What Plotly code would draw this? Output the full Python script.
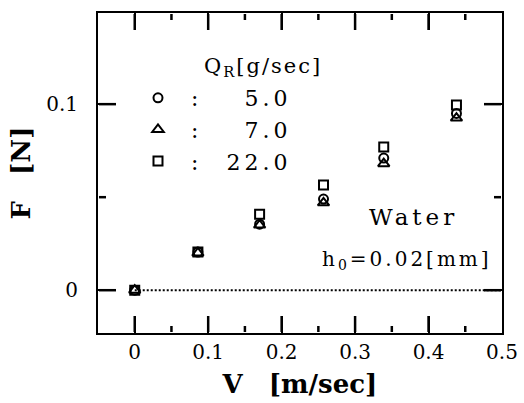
import plotly.graph_objects as go

V = [0.0, 0.086, 0.170, 0.257, 0.339, 0.438]
F_5 = [0.0, 0.0205, 0.0355, 0.0490, 0.0710, 0.0950]
F_7 = [0.0, 0.0200, 0.0350, 0.0470, 0.0680, 0.0925]
F_22 = [0.0, 0.0205, 0.0408, 0.0565, 0.0770, 0.0995]
series_names = ["5.0", "7.0", "22.0"]
x_major = [0.0, 0.1, 0.2, 0.3, 0.4]
x_minor = [0.05, 0.15, 0.25, 0.35, 0.45]
y_major = [0.0, 0.1]
y_minor = [0.05]

W, H = 524, 403
ML, MR, MT, MB = 98, 22, 13, 70
PW, PH = W - ML - MR, H - MT - MB
XR = [-0.05, 0.5]
YR = [-0.023, 0.149]
XPX = (XR[1] - XR[0]) / PW
YPX = (YR[1] - YR[0]) / PH

FONT = "DejaVu Serif"
LS = '<span style="letter-spacing:{}px">{}</span>'
fig = go.Figure()

# tick marks drawn as separate line traces per side (inside, mirrored)
tickline = dict(color="black", width=2.5, simplify=False)
sides = []
bx, by, tpx, tpy = [], [], [], []
for xs, ln in [(x_major, 17), (x_minor, 7)]:
    for xv in xs:
        bx += [xv, xv, None]
        by += [YR[0] + 1 * YPX, YR[0] + ln * YPX, None]
        tpx += [xv, xv, None]
        tpy += [YR[1] - 1 * YPX, YR[1] - ln * YPX, None]
lx, ly, rx, ry = [], [], [], []
for ysv, ln in [(y_major, 18), (y_minor, 8)]:
    for yv in ysv:
        lx += [XR[0] + 1 * XPX, XR[0] + ln * XPX, None]
        ly += [yv, yv, None]
        rx += [XR[1] - 1 * XPX, XR[1] - ln * XPX, None]
        ry += [yv, yv, None]
for sx, sy in [(bx, by), (tpx, tpy), (lx, ly), (rx, ry)]:
    fig.add_trace(go.Scatter(x=sx, y=sy, mode="lines", showlegend=False,
                             hoverinfo="skip", line=tickline, cliponaxis=False,
                             connectgaps=False))

fig.add_trace(go.Scatter(x=[0, XR[1]], y=[0, 0], mode="lines", showlegend=False,
                         hoverinfo="skip", line=dict(color="black", width=2, dash="2px,2px")))

sym = ["circle-open", "triangle-up-open", "square-open"]
sizes = [9, 10, 9]
for ys, nm, s, sz in zip([F_5, F_7, F_22], series_names, sym, sizes):
    label = LS.format(2, "\u2002:\u2002\u2002") + LS.format(4, ("\u2007" + nm if len(nm) == 3 else nm))
    fig.add_trace(go.Scatter(x=V, y=ys, mode="markers", name=label,
                             marker=dict(symbol=s, size=sz, color="black",
                                         line=dict(width=2, color="black"))))

fig.add_annotation(x=(263 - ML) / PW, y=(H - MB - 67) / PH, xref="paper", yref="paper",
                   xanchor="center", yanchor="middle",
                   text=LS.format(2, "Q<sub>R</sub>[g/sec]"), showarrow=False,
                   font=dict(family=FONT, size=21, color="black"))
fig.add_annotation(x=0.380, y=0.0392, xref="x", yref="y",
                   text=LS.format(4, "Water"), showarrow=False,
                   font=dict(family=FONT, size=23, color="black"))
fig.add_annotation(x=0.370, y=0.0165, xref="x", yref="y",
                   text=LS.format(3, "h<sub>0</sub>=0.02[mm]"), showarrow=False,
                   font=dict(family=FONT, size=20, color="black"))

fig.update_layout(
    template="simple_white",
    width=W, height=H,
    margin=dict(l=ML, r=MR, t=MT, b=MB, autoexpand=False),
    paper_bgcolor="white", plot_bgcolor="white",
    font=dict(family=FONT, size=20, color="black"),
    showlegend=True,
    legend=dict(x=0.099, y=0.80, xanchor="left", yanchor="top",
                bgcolor="rgba(0,0,0,0)", font=dict(family=FONT, size=22),
                tracegroupgap=0, itemwidth=30),
    xaxis=dict(range=XR, tick0=0, dtick=0.1, automargin=False,
               ticks="inside", ticklen=17, tickwidth=2, tickcolor="#000000",
               showline=True, linewidth=2, linecolor="#000000", mirror="ticks",
               showgrid=False, zeroline=False,
               title=dict(text="<b>V\u2003[m/sec]</b>", font=dict(family=FONT, size=26),
                          standoff=12),
               tickfont=dict(family=FONT, size=20)),
    yaxis=dict(range=YR, tick0=0, dtick=0.1, automargin=False,
               ticks="inside", ticklen=18, tickwidth=2, tickcolor="#000000",
               showline=True, linewidth=2, linecolor="#000000", mirror="ticks",
               showgrid=False, zeroline=False, ticklabelstandoff=14,
               title=dict(text="<b>F\u2003[N]</b>", font=dict(family=FONT, size=26),
                          standoff=8),
               tickfont=dict(family=FONT, size=20)),
)
fig.write_html("out.html", config={"displayModeBar": False},
               post_script="document.body.style.margin='0';")
